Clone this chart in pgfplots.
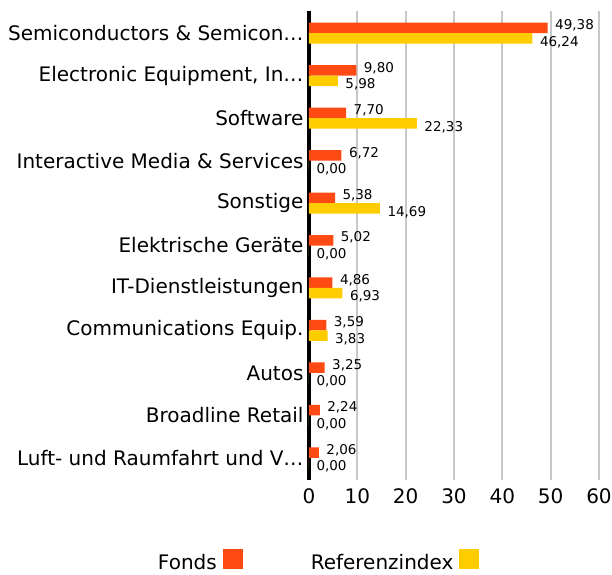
\documentclass[border=0pt]{standalone}
\usepackage{pgfplots}
\pgfplotsset{compat=1.18}
\usepackage{fontspec}
\setmainfont{DejaVu Sans}
\definecolor{fonds}{HTML}{FF4A14}
\definecolor{refc}{HTML}{FFCC00}
\definecolor{gridc}{HTML}{C8C8C8}
\begin{document}
\begin{tikzpicture}
\begin{axis}[
  name=ax,
  scale only axis, width=290pt, height=469pt,
  xbar, bar width=10.5pt,
  xmin=0, xmax=60, xtick={10,20,...,60},
  ymin=-0.52, ymax=10.52, y dir=reverse,
  ytick={0,...,10},
  yticklabels={Semiconductors \& Semicon…, {Electronic Equipment, In…}, Software, Interactive Media \& Services, Sonstige, Elektrische Geräte, IT-Dienstleistungen, Communications Equip., Autos, Broadline Retail, Luft- und Raumfahrt und V…},
  axis line style={draw=none},
  major tick length=0pt,
  xmajorgrids, grid style={gridc, line width=2pt},
  extra x ticks={0}, extra x tick labels={0},
  extra x tick style={grid style={black, line width=4pt}},
  /pgf/number format/assume math mode=true,
  yticklabel style={font=\fontsize{20}{22}\selectfont, xshift=-2pt},
  xticklabel style={font=\fontsize{20}{22}\selectfont, yshift=-5pt},
  nodes near coords={\pgfmathprintnumber[fixed,fixed zerofill,precision=2,use comma,assume math mode=true]{\pgfplotspointmeta}},
  nodes near coords style={font=\fontsize{13.5}{15}\selectfont, anchor=west, xshift=4pt},
  legend style={draw=none, at={(0.03,-0.142)}, anchor=north, legend columns=2,
    font=\fontsize{20}{22}\selectfont,
    /tikz/every odd column/.append style={column sep=4pt},
    /tikz/every even column/.append style={column sep=66pt}},
  legend plot pos=right,
  legend image code/.code={\fill[#1,draw=none] (0pt,-6pt) rectangle (20pt,14pt);},
]
\addplot[fill=fonds, draw=none, bar shift=5.25pt, nodes near coords style={yshift=2.5pt}] coordinates {
(49.38,0) (9.80,1) (7.70,2) (6.72,3) (5.38,4) (5.02,5) (4.86,6) (3.59,7) (3.25,8) (2.24,9) (2.06,10)};
\addlegendentry{Fonds}
\addplot[fill=refc, draw=none, bar shift=-5.25pt, nodes near coords style={yshift=-3.5pt}] coordinates {
(46.24,0) (5.98,1) (22.33,2) (0.00,3) (14.69,4) (0.00,5) (6.93,6) (3.83,7) (0.00,8) (0.00,9) (0.00,10)};
\addlegendentry{Referenzindex}
\end{axis}
\pgfresetboundingbox
\path[use as bounding box] ([xshift=-309pt,yshift=-94pt]ax.south west) rectangle ([xshift=13pt,yshift=11pt]ax.north east);
\end{tikzpicture}
\end{document}
